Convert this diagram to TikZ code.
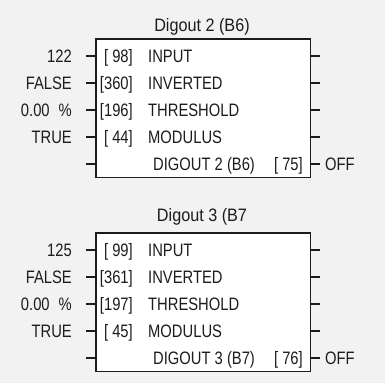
\documentclass[tikz,border=0pt]{standalone}
\usepackage{fontspec}
\setmainfont{Liberation Sans}[FakeStretch=0.82]
\newfontfamily\titlefont{Liberation Sans}[FakeStretch=0.9]
\definecolor{bgcol}{RGB}{242,242,242}
\definecolor{ink}{RGB}{28,28,28}
\begin{document}
\begin{tikzpicture}[x=1pt,y=-1pt,
  txt/.style={font=\fontsize{18}{20}\selectfont, text=ink, inner sep=0pt},
  ttl/.style={font=\titlefont\fontsize{18}{20}\selectfont, text=ink, inner sep=0pt},
  blk/.style={draw=ink, line width=1.2pt, fill=white, inner sep=0pt, outer sep=0pt,
              minimum width=214.5pt, minimum height=138.5pt, anchor=north west},
  stub/.style={draw=ink, line width=1.2pt}]
\fill[bgcol] (0,0) rectangle (385,383);
\useasboundingbox (0,0) rectangle (385,383);
\foreach \blk/\top/\ttop/\ttl/\va/\na/\nb/\nc/\nd/\lab/\onum in {%
  1/39/31.5/{Digout 2 (B6)}/122/{[\ 98]}/{[360]}/{[196]}/{[\ 44]}/{DIGOUT 2 (B6)}/{[\ 75]},
  2/233/221.5/{Digout 3 (B7}/125/{[\ 99]}/{[361]}/{[197]}/{[\ 45]}/{DIGOUT 3 (B7)}/{[\ 76]}}{
  \node[blk] (box\blk) at (96,\top) {};
  \node[ttl, anchor=base] (title\blk) at (202,\ttop) {\ttl};
  \foreach \k in {0,...,4}{
    \pgfmathsetmacro{\yy}{\top+17+27*\k}
    \coordinate (li\blk-\k) at (96,\yy);
    \coordinate (lo\blk-\k) at (86,\yy);
    \coordinate (ri\blk-\k) at (310.5,\yy);
    \coordinate (ro\blk-\k) at (320,\yy);
    \draw[stub] (lo\blk-\k) -- (li\blk-\k);
    \draw[stub] (ri\blk-\k) -- (ro\blk-\k);
  }
  \pgfmathsetmacro{\ya}{\top+23.5}
  \pgfmathsetmacro{\yb}{\top+50.5}
  \pgfmathsetmacro{\yc}{\top+77.5}
  \pgfmathsetmacro{\yd}{\top+104.5}
  \pgfmathsetmacro{\ye}{\top+131.5}
  \node[txt, anchor=base east] (va\blk) at (72,\ya) {\va};
  \node[txt, anchor=base east] (vb\blk) at (72,\yb) {FALSE};
  \node[txt, anchor=base east] (vc\blk) at (72,\yc) {0.00\hspace{9pt}\%};
  \node[txt, anchor=base east] (vd\blk) at (72,\yd) {TRUE};
  \node[txt, anchor=base east] (na\blk) at (133,\ya) {\na};
  \node[txt, anchor=base east] (nb\blk) at (133,\yb) {\nb};
  \node[txt, anchor=base east] (nc\blk) at (133,\yc) {\nc};
  \node[txt, anchor=base east] (nd\blk) at (133,\yd) {\nd};
  \node[txt, anchor=base west] (pa\blk) at (148,\ya) {INPUT};
  \node[txt, anchor=base west] (pb\blk) at (148,\yb) {INVERTED};
  \node[txt, anchor=base west] (pc\blk) at (148,\yc) {THRESHOLD};
  \node[txt, anchor=base west] (pd\blk) at (148,\yd) {MODULUS};
  \node[txt, anchor=base west] (pe\blk) at (153,\ye) {\lab};
  \node[txt, anchor=base east] (ne\blk) at (303,\ye) {\onum};
  \node[txt, anchor=base west] (off\blk) at (325,\ye) {OFF};
}
\end{tikzpicture}
\end{document}
